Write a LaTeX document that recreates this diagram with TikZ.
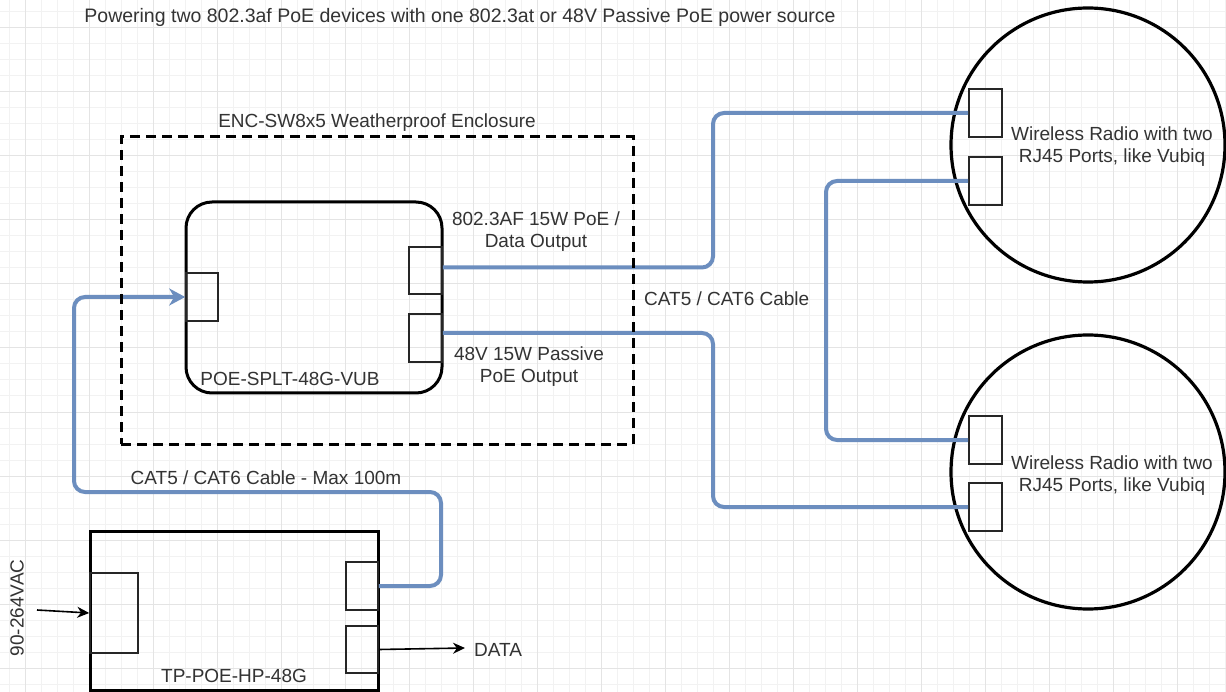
\documentclass[tikz,border=0pt]{standalone}
\usepackage{fontspec}
\setmainfont{Liberation Sans}
\usetikzlibrary{arrows.meta}
\definecolor{txt}{HTML}{333333}
\definecolor{cab}{HTML}{6C8EBF}
\definecolor{gridminor}{HTML}{F2F2F2}
\definecolor{gridmajor}{HTML}{E4E4E4}
\tikzset{
  lbl/.style={text=txt, font=\fontsize{19}{22}\selectfont, inner sep=0, align=center},
  port/.style={draw=black!85, line width=1.6, minimum width=33, minimum height=48, inner sep=0},
  bigbox/.style={draw=black, line width=3, inner sep=0},
  radio/.style={draw=black, line width=3.2, circle, minimum size=274, inner sep=0},
  cable/.style={draw=cab, line width=4, rounded corners=11},
  blk/.style={draw=black, line width=1.6, -{Stealth[length=12,width=11]}},
}
\begin{document}
\begin{tikzpicture}[x=1pt,y=-1pt]
\useasboundingbox (0,0) rectangle (1226,692);
\fill[white] (0,0) rectangle (1226,692);
% grid
\foreach \x in {9,25,...,1226} \draw[gridminor, line width=1] (\x,0) -- (\x,692);
\foreach \y in {12,28,...,692} \draw[gridminor, line width=1] (0,\y) -- (1226,\y);
\foreach \x in {25,89,...,1226} \draw[gridmajor, line width=1] (\x,0) -- (\x,692);
\foreach \y in {28,92,...,692} \draw[gridmajor, line width=1] (0,\y) -- (1226,\y);

% title
\node[lbl, font=\fontsize{19.5}{22}\selectfont] (title) at (460,17) {Powering two 802.3af PoE devices with one 802.3at or 48V Passive PoE power source};

% splitter
\node[bigbox, rounded corners=26, minimum width=256, minimum height=191] (split) at (314,297.5) {};
\node[lbl] (splitlbl) at (290,379) {POE-SPLT-48G-VUB};
\node[port, minimum width=32, minimum height=48] (spin) at (202,297) {};
\node[port, minimum width=33, minimum height=47] (sp1) at (425.5,270.5) {};
\node[port, minimum width=33, minimum height=48] (sp2) at (425.5,338) {};
\node[lbl] (sp1lbl) at (536,231.5) {802.3AF 15W PoE /\\Data Output};
\node[lbl] (sp2lbl) at (529,366.5) {48V 15W Passive\\PoE Output};
\node[lbl] (enclbl) at (377,123) {ENC-SW8x5 Weatherproof Enclosure};

% radios
\node[radio] (radA) at (1088,145) {};
\node[radio] (radB) at (1088,472) {};
\node[port] (ra1) at (985.5,113) {};
\node[port] (ra2) at (985.5,181) {};
\node[port] (rb1) at (985.5,440) {};
\node[port] (rb2) at (985.5,507) {};
\node[lbl] (radAlbl) at (1112,146.5) {Wireless Radio with two\\RJ45 Ports, like Vubiq};
\node[lbl] (radBlbl) at (1112,475.5) {Wireless Radio with two\\RJ45 Ports, like Vubiq};

% injector
\node[bigbox, minimum width=288, minimum height=159] (tp) at (234,610.5) {};
\node[port, minimum width=48, minimum height=80] (tpin) at (114,613) {};
\node[port, minimum width=32, minimum height=48] (tp1) at (362,586) {};
\node[port, minimum width=32, minimum height=47] (tp2) at (362,649.5) {};
\node[lbl] (tplbl) at (234,676) {TP-POE-HP-48G};
\node[lbl, rotate=90] (vac) at (17,608) {90-264VAC};
\node[lbl, anchor=west] (data) at (474,650) {DATA};
\node[lbl] (cab1lbl) at (266,478) {CAT5 / CAT6 Cable - Max 100m};
\node[lbl, anchor=west] (cab2lbl) at (644,299) {CAT5 / CAT6 Cable};

% routing coordinates
\coordinate (c1) at (713,0);
\coordinate (c3) at (826,0);
\coordinate (k1) at (441,492);
\coordinate (k2) at (74,492);
\coordinate (acin) at (37,610);
\coordinate (dataend) at (465,648);

% cables
\draw[cable] ([yshift=3pt]sp1.east) -- ([yshift=3pt]sp1.east -| c1) |- (ra1.west);
\draw[cable] ([yshift=5pt]sp2.east) -- ([yshift=5pt]sp2.east -| c1) |- (rb2.west);
\draw[cable] (ra2.west) -- (ra2.west -| c3) |- (rb1.west);
\draw[cable, -{Stealth[length=16,width=17,inset=5]}] (tp1.east) -| (k1) -- (k2) |- (spin.west);

% black arrows
\draw[blk] (acin) -- (tpin.west);
\draw[blk] (tp2.east) -- (dataend);

% enclosure
\node[draw=black, line width=3, dash pattern=on 10 off 6, minimum width=512, minimum height=307, inner sep=0] (encl) at (377,290.5) {};
\end{tikzpicture}
\end{document}
